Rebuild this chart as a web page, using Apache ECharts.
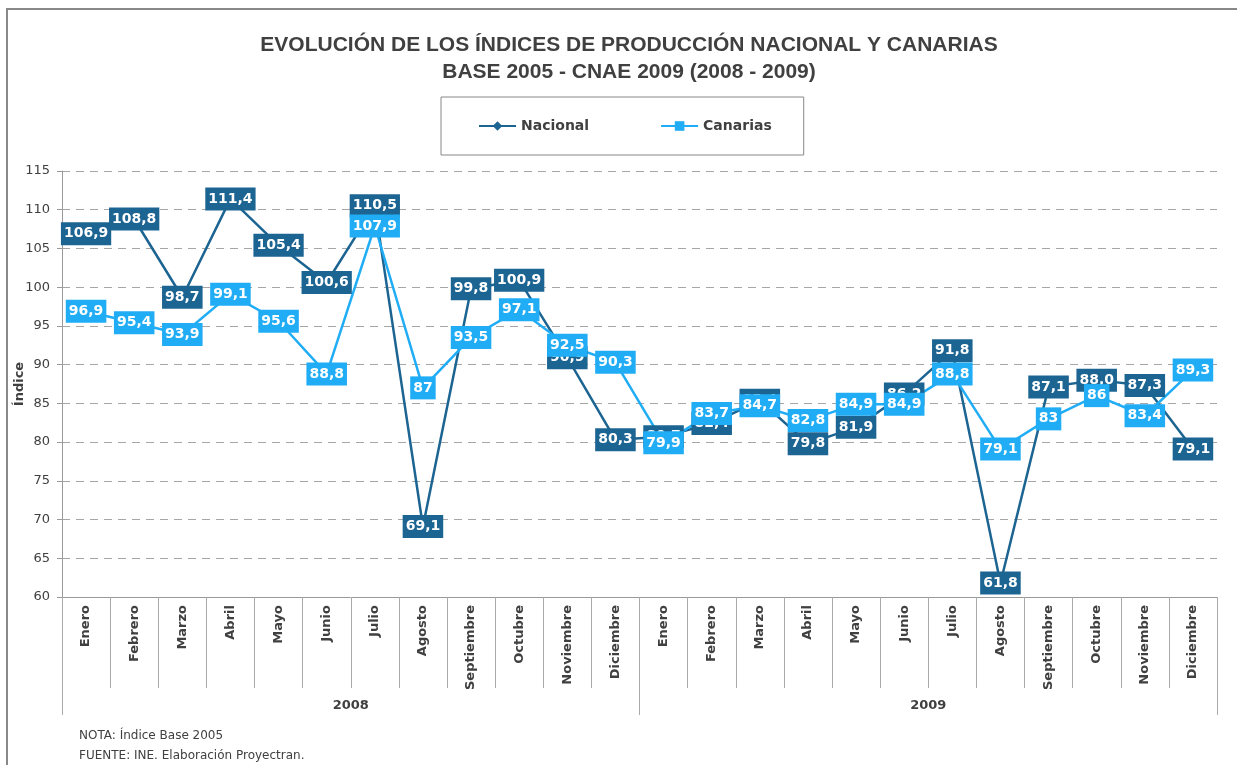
<!DOCTYPE html>
<html>
<head>
<meta charset="utf-8">
<script src="https://cdn.jsdelivr.net/npm/echarts@6/dist/echarts.min.js"></script>
<style>
  html, body { margin: 0; padding: 0; background: #fff; }
  #chart { width: 1237px; height: 765px; }
</style>
</head>
<body>
<div id="chart"></div>
<script>
// meses (dos años) y valores de los índices
const meses = ['Enero', 'Febrero', 'Marzo', 'Abril', 'Mayo', 'Junio', 'Julio', 'Agosto',
  'Septiembre', 'Octubre', 'Noviembre', 'Diciembre'];
const categorias = meses.concat(meses);
const anios = ['2008', '2009'];
const nacional = [106.9, 108.8, 98.7, 111.4, 105.4, 100.6, 110.5, 69.1, 99.8, 100.9, 90.9, 80.3,
  80.7, 82.4, 85.4, 79.8, 81.9, 86.2, 91.8, 61.8, 87.1, 88.0, 87.3, 79.1];
const canarias = [96.9, 95.4, 93.9, 99.1, 95.6, 88.8, 107.9, 87, 93.5, 97.1, 92.5, 90.3,
  79.9, 83.7, 84.7, 82.8, 84.9, 84.9, 88.8, 79.1, 83, 86, 83.4, 89.3];

const colNac = '#1c6491';
const colCan = '#20adf5';
const gris = '#404040';
const fuente = 'DejaVu Sans';

const etiqueta = (color, fmt) => ({
  show: true,
  position: 'inside',
  formatter: fmt,
  color: '#fff',
  fontFamily: fuente,
  fontWeight: 'bold',
  fontSize: 14,
  backgroundColor: color,
  padding: [5, 3, 4, 3]
});

const myChart = echarts.init(document.getElementById('chart'));
const option = {
  animation: false,
  title: {
    text: 'EVOLUCIÓN DE LOS ÍNDICES DE PRODUCCIÓN NACIONAL Y CANARIAS\nBASE 2005 - CNAE 2009 (2008 - 2009)',
    left: 624,
    textAlign: 'center',
    top: 27,
    textStyle: {
      color: gris,
      fontFamily: 'Liberation Sans',
      fontWeight: 'bold',
      fontSize: 21,
      lineHeight: 27
    }
  },
  legend: {
    left: 441,
    top: 97,
    padding: [22, 32, 22, 37],
    itemGap: 71,
    itemWidth: 37,
    itemHeight: 12,
    borderColor: '#888',
    borderWidth: 1,
    textStyle: { color: gris, fontFamily: fuente, fontWeight: 'bold', fontSize: 14 },
    data: ['Nacional', 'Canarias']
  },
  grid: { left: 62, right: 20, top: 171, bottom: 168, containLabel: false, outerBoundsMode: 'none' },
  xAxis: [{
    type: 'category',
    data: categorias,
    axisLine: { lineStyle: { color: '#999', width: 1 } },
    axisTick: { show: true, interval: 0, length: 91, lineStyle: { color: '#aaa' } },
    axisLabel: {
      interval: 0,
      rotate: 90,
      margin: 8,
      color: gris,
      fontFamily: fuente,
      fontWeight: 'bold',
      fontSize: 13
    }
  }, {
    type: 'category',
    data: anios,
    position: 'bottom',
    offset: 0,
    axisLine: { show: false },
    axisTick: { show: true, interval: 0, length: 118, lineStyle: { color: '#aaa' } },
    axisLabel: {
      margin: 102,
      color: gris,
      fontFamily: fuente,
      fontWeight: 'bold',
      fontSize: 13
    }
  }],
  yAxis: {
    type: 'value',
    min: 60,
    max: 115,
    interval: 5,
    name: 'Índice',
    nameLocation: 'middle',
    nameGap: 36,
    nameMoveOverlap: false,
    nameTextStyle: { color: gris, fontFamily: fuente, fontWeight: 'bold', fontSize: 13 },
    axisLine: { show: true, lineStyle: { color: '#999' } },
    axisTick: { show: true, length: 5, lineStyle: { color: '#999' } },
    axisLabel: { margin: 12, color: gris, fontFamily: fuente, fontSize: 13 },
    splitLine: { lineStyle: { color: '#a6a6a6', type: [8, 6], width: 1 } }
  },
  series: [{
    name: 'Nacional',
    type: 'line',
    data: nacional,
    symbol: 'diamond',
    symbolSize: 8,
    color: colNac,
    lineStyle: { color: colNac, width: 2.5 },
    itemStyle: { color: colNac },
    label: etiqueta(colNac, p => p.value.toFixed(1).replace('.', ','))
  }, {
    name: 'Canarias',
    type: 'line',
    data: canarias,
    symbol: 'rect',
    symbolSize: 7,
    color: colCan,
    lineStyle: { color: colCan, width: 2.5 },
    itemStyle: { color: colCan },
    label: etiqueta(colCan, p => String(p.value).replace('.', ','))
  }],
  graphic: [{
    type: 'rect',
    shape: { x: 7, y: 9, width: 1260, height: 800 },
    style: { fill: 'none', stroke: '#888', lineWidth: 2 },
    silent: true
  }, {
    type: 'text',
    left: 79,
    top: 730,
    style: { text: 'NOTA: Índice Base 2005', fill: gris, font: '12px "DejaVu Sans"' }
  }, {
    type: 'text',
    left: 79,
    top: 750,
    style: { text: 'FUENTE: INE. Elaboración Proyectran.', fill: gris, font: '12px "DejaVu Sans"' }
  }]
};
myChart.setOption(option);
</script>
</body>
</html>
